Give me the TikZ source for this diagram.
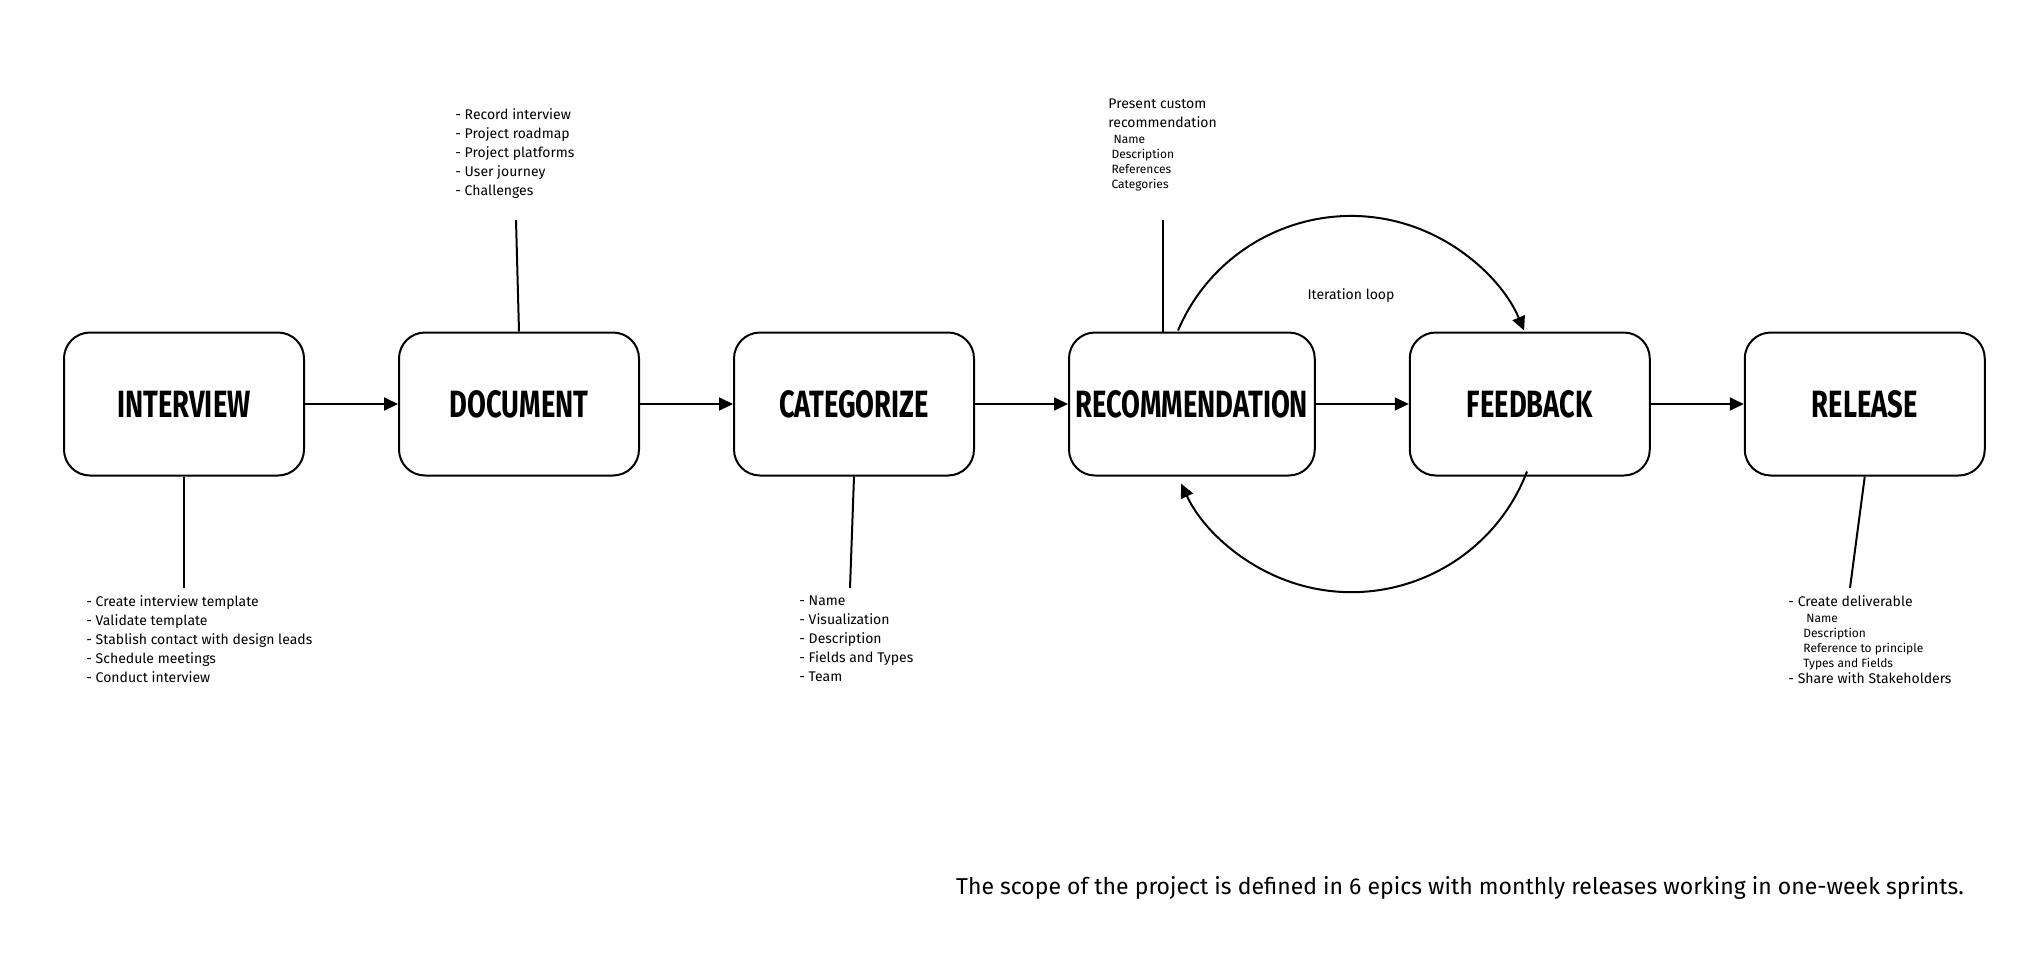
\documentclass[tikz,border=0pt]{standalone}
\usepackage{fontspec}
\setmainfont{Fira Sans}
\newfontfamily\stagefont[FakeStretch=0.72]{Fira Sans}
\usetikzlibrary{positioning,arrows.meta}
\tikzset{
  stage/.style={draw, line width=1pt, rounded corners=13pt, minimum width=120pt,
    minimum height=71.5pt, font=\stagefont\bfseries\fontsize{19}{20}\selectfont},
  flow/.style={line width=1pt, -{Triangle[length=7pt,width=6.5pt]}},
  link/.style={line width=1pt},
  note/.style={align=left, inner sep=0pt, font=\fontsize{7}{9.5}\selectfont}
}
\begin{document}
\begin{tikzpicture}[x=0.5pt,y=0.5pt, node distance=46.5pt]
  \useasboundingbox (0,0) rectangle (2040,-960);

  % Stages of the process
  \node[stage] (intv) at (184,-404) {INTERVIEW};
  \node[stage, right=of intv] (doc) {DOCUMENT};
  \node[stage, right=of doc] (cat) {CATEGORIZE};
  \node[stage, right=of cat] (rec) {RECOMMENDATION};
  \node[stage, right=of rec] (fb) {FEEDBACK};
  \node[stage, right=of fb] (rel) {RELEASE};

  % Main flow
  \draw[flow] (intv) -- (doc);
  \draw[flow] (doc) -- (cat);
  \draw[flow] (cat) -- (rec);
  \draw[flow] (rec) -- (fb);
  \draw[flow] (fb) -- (rel);

  % Notes
  \coordinate (intvend) at (184,-588);
  \coordinate (docend) at (516,-220);
  \coordinate (catend) at (850,-588);
  \coordinate (recstart) at (1163,-332);
  \coordinate (recend) at (1163,-220);
  \coordinate (relend) at (1850,-588);
  \draw[link] (intv.south) -- (intvend);
  \draw[link] (doc.north) -- (docend);
  \draw[link] (cat.south) -- (catend);
  \draw[link] (recstart) -- (recend);
  \draw[link] (rel.south) -- (relend);

  \node[note, anchor=north west] (intvnote) at (86,-595) {- Create interview template\\- Validate template\\- Stablish contact with design leads\\- Schedule meetings\\- Conduct interview};
  \node[note, anchor=north west] (docnote) at (455,-108) {- Record interview\\- Project roadmap\\- Project platforms\\- User journey\\- Challenges};
  \node[note, anchor=north west] (catnote) at (799,-595) {- Name\\- Visualization\\- Description\\- Fields and Types\\- Team};
  \node[note, anchor=north west] (recnote) at (1108,-98) {Present custom\\recommendation\\[-1.5pt]
    {\fontsize{6}{8.5}\selectfont\ \,Name}\\[-2pt]{\fontsize{6}{8.5}\selectfont\ Description}\\[-2pt]{\fontsize{6}{8.5}\selectfont\ References}\\[-2pt]{\fontsize{6}{8.5}\selectfont\ Categories}};
  \node[note, anchor=north west] (relnote) at (1788,-595) {- Create deliverable\\[-1.5pt]
    {\fontsize{6}{8.5}\selectfont\hspace{9pt}Name}\\[-2pt]{\fontsize{6}{8.5}\selectfont\hspace{7.5pt}Description}\\[-2pt]{\fontsize{6}{8.5}\selectfont\hspace{7.5pt}Reference to principle}\\[-2pt]{\fontsize{6}{8.5}\selectfont\hspace{7.5pt}Types and Fields}\\[-1.5pt]- Share with Stakeholders};

  % Iteration loop
  \coordinate (loopa) at (1178,-330.5);
  \coordinate (loopb) at (1527,-471.5);
  \draw[flow] (loopa) arc[start angle=157, end angle=23, radius=188];
  \draw[flow] (loopb) arc[start angle=-21, end angle=-155, radius=188];
  \node[note] (loop) at (1351,-296) {Iteration loop};

  \node[anchor=east, font=\fontsize{11.5}{13}\selectfont] (scope) at (1971,-888)
    {The scope of the project is defined in 6 epics with monthly releases working in one-week sprints.};
\end{tikzpicture}
\end{document}
